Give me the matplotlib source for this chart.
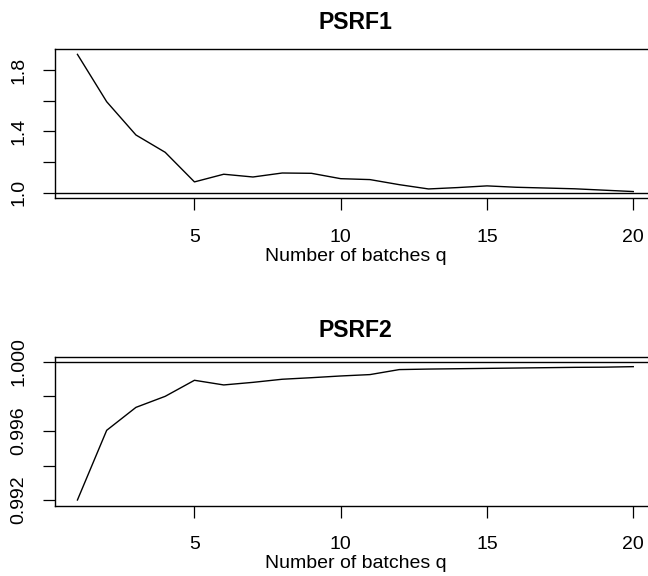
import matplotlib
matplotlib.use("Agg")
import matplotlib.pyplot as plt

plt.rcParams["font.family"] = ["Liberation Sans", "DejaVu Sans"]

batches = list(range(1, 21))
psrf1 = [1.902, 1.593, 1.376, 1.263, 1.070, 1.120, 1.102, 1.128, 1.126, 1.091,
         1.085, 1.052, 1.024, 1.033, 1.044, 1.035, 1.030, 1.025, 1.016, 1.007]
psrf2 = [0.99200, 0.99604, 0.99737, 0.99801, 0.99894, 0.99867, 0.99882, 0.99900,
         0.99909, 0.99919, 0.99927, 0.99956, 0.99959, 0.99961, 0.99963, 0.99965,
         0.99967, 0.99969, 0.99970, 0.99973]

x_ticks = [5, 10, 15, 20]
y1_ticks = [1.0, 1.2, 1.4, 1.6, 1.8]
y1_labels = ["1.0", "", "1.4", "", "1.8"]
y2_ticks = [0.992, 0.994, 0.996, 0.998, 1.000]
y2_labels = ["0.992", "", "0.996", "", "1.000"]

W, H = 648, 576
fig = plt.figure(figsize=(W / 100, H / 100), dpi=100)

left = 55.2 / W
width = (655.5 - 55.2) / W


def panel(top_px, bottom_px, values, title, yticks, ylabels, ylim):
    ax = fig.add_axes([left, 1 - bottom_px / H, width, (bottom_px - top_px) / H])
    ax.plot(batches, values, color="black", lw=1.0)
    ax.axhline(1.0, color="black", lw=1.0)
    ax.set_xlim(0.24, 20.76)
    ax.set_ylim(*ylim)
    ax.set_xticks(x_ticks)
    ax.set_yticks(yticks)
    ax.set_yticklabels(ylabels)
    for lab in ax.get_yticklabels():
        lab.set_rotation(90)
        lab.set_va("center")
    ax.tick_params(axis="both", length=8.6, width=0.9, labelsize=14,
                   direction="out", color="black")
    ax.tick_params(axis="x", pad=13.5)
    ax.tick_params(axis="y", pad=11.5)
    for s in ax.spines.values():
        s.set_linewidth(1.0)
    ax.set_xlabel("Number of batches q", fontsize=14, labelpad=1.5)
    ax.set_title(title, fontsize=16.6, fontweight="bold", pad=14.5)
    return ax


panel(49.3, 198.3, psrf1, "PSRF1", y1_ticks, y1_labels, (0.963, 1.935))
panel(356.7, 505.7, psrf2, "PSRF2", y2_ticks, y2_labels, (0.99167, 1.000307))

fig.savefig("out.png", dpi=100)
